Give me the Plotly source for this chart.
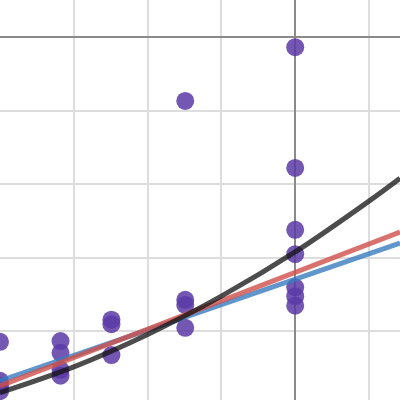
import plotly.graph_objects as go

# Scatter data
pt_x = [0, 0, 0, 0, 0, 0, 0,
        -1.49, -1.49, -1.49, -1.49,
        -2.49, -2.49, -2.49,
        -3.18, -3.18, -3.18, -3.18,
        -4.0, -4.0, -4.0, -4.0]
pt_y = [-0.14, -1.78, -2.62, -2.95, -3.40, -3.52, -3.65,
        -0.87, -3.57, -3.64, -3.95,
        -3.84, -3.90, -4.32,
        -4.13, -4.29, -4.52, -4.60,
        -4.14, -4.67, -4.74, -4.81]

# Fit lines
blue_x = [-4.0, 1.42]
blue_y = [-4.67, -2.80]
red_x = [-4.0, 1.42]
red_y = [-4.74, -2.65]
black_x = [-4.0, -3.0, -2.0, -1.0, 0.0, 1.0, 1.42]
black_y = [-4.83, -4.48, -4.04, -3.52, -2.92, -2.23, -1.92]

fig = go.Figure()
fig.add_trace(go.Scatter(x=pt_x, y=pt_y, mode="markers",
                         marker=dict(size=18, color="#5b3aa6", opacity=0.85, line=dict(width=0)),
                         showlegend=False))
fig.add_trace(go.Scatter(x=blue_x, y=blue_y, mode="lines",
                         line=dict(color="#3a7cc0", width=5), opacity=0.8, showlegend=False))
fig.add_trace(go.Scatter(x=red_x, y=red_y, mode="lines",
                         line=dict(color="#d0504a", width=5), opacity=0.8, showlegend=False))
fig.add_trace(go.Scatter(x=black_x, y=black_y, mode="lines",
                         line=dict(color="#111111", width=5, shape="spline"), opacity=0.75, showlegend=False))

fig.update_layout(
    width=400, height=400,
    margin=dict(l=0, r=0, t=0, b=0),
    plot_bgcolor="white", paper_bgcolor="white",
    xaxis=dict(range=[-4.0, 1.42], dtick=1, tick0=0, showticklabels=False,
               showgrid=True, gridcolor="#dddddd", gridwidth=1.5,
               zeroline=True, zerolinecolor="#8a8a8a", zerolinewidth=2, showline=False),
    yaxis=dict(range=[-4.93, 0.5], dtick=1, tick0=0, showticklabels=False,
               showgrid=True, gridcolor="#dddddd", gridwidth=1.5,
               zeroline=True, zerolinecolor="#8a8a8a", zerolinewidth=2, showline=False),
)
fig.write_html("out.html",
               config={"displayModeBar": False},
               post_script="document.body.style.margin='0';document.body.style.overflow='hidden';")
